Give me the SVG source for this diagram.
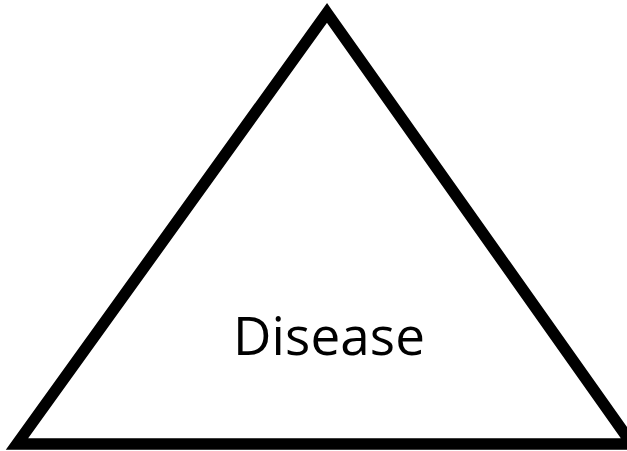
<svg xmlns="http://www.w3.org/2000/svg" width="627" height="451" viewBox="0 0 627 451">
<style>
.tri{fill:none;stroke:#000;stroke-width:11.5;stroke-linejoin:miter;stroke-miterlimit:10}
.lbl{font-family:"Open Sans","Liberation Sans",sans-serif;font-size:53px;fill:#000;text-anchor:middle}
</style>
<rect width="627" height="451" fill="#fff"/>
<g id="triangle">
<polygon class="tri" points="327,13 632,444 17,444"/>
<text class="lbl" x="329" y="355" textLength="192" lengthAdjust="spacing">Disease</text>
</g>
</svg>
